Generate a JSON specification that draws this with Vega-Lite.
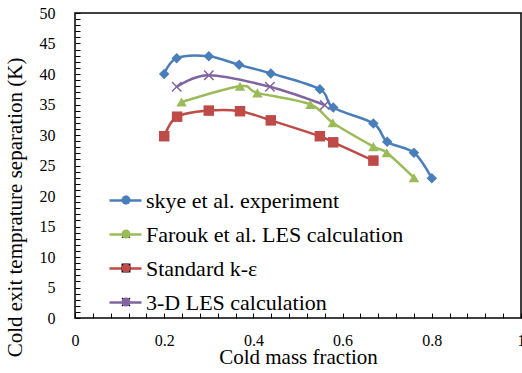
{
  "$schema": "https://vega.github.io/schema/vega-lite/v6.json",
  "width": 446,
  "height": 305,
  "autosize": {"type": "none"},
  "padding": {"left": 75, "top": 13, "right": 1, "bottom": 55},
  "background": "white",
  "config": {
    "view": {"stroke": "#000", "strokeWidth": 1.5},
    "font": "Liberation Serif",
    "axis": {
      "domain": false, "grid": false, "tickSize": -5, "tickColor": "#000", "tickWidth": 1,
      "labelFont": "Liberation Serif", "labelFontSize": 16, "labelColor": "#000",
      "labelFlush": false, "labelOverlap": false,
      "titleFont": "Liberation Serif", "titleFontWeight": "normal", "titleColor": "#000"
    },
    "legend": {"labelFont": "Liberation Serif", "labelColor": "#000", "labelLimit": 400}
  },
  "data": {
    "values": [
      {"series": "skye et al. experiment", "x": 0.2, "y": 40.0},
      {"series": "skye et al. experiment", "x": 0.228, "y": 42.6},
      {"series": "skye et al. experiment", "x": 0.3, "y": 42.9},
      {"series": "skye et al. experiment", "x": 0.368, "y": 41.5},
      {"series": "skye et al. experiment", "x": 0.439, "y": 40.1},
      {"series": "skye et al. experiment", "x": 0.549, "y": 37.5},
      {"series": "skye et al. experiment", "x": 0.579, "y": 34.5},
      {"series": "skye et al. experiment", "x": 0.669, "y": 31.9},
      {"series": "skye et al. experiment", "x": 0.7, "y": 28.9},
      {"series": "skye et al. experiment", "x": 0.76, "y": 27.1},
      {"series": "skye et al. experiment", "x": 0.8, "y": 22.9},
      {"series": "Farouk et al. LES calculation", "x": 0.239, "y": 35.4},
      {"series": "Farouk et al. LES calculation", "x": 0.37, "y": 38.0},
      {"series": "Farouk et al. LES calculation", "x": 0.409, "y": 36.9},
      {"series": "Farouk et al. LES calculation", "x": 0.528, "y": 35.0},
      {"series": "Farouk et al. LES calculation", "x": 0.578, "y": 32.0},
      {"series": "Farouk et al. LES calculation", "x": 0.669, "y": 28.1},
      {"series": "Farouk et al. LES calculation", "x": 0.699, "y": 27.1},
      {"series": "Farouk et al. LES calculation", "x": 0.76, "y": 23.0},
      {"series": "Standard k-ε", "x": 0.2, "y": 29.8},
      {"series": "Standard k-ε", "x": 0.229, "y": 33.0},
      {"series": "Standard k-ε", "x": 0.3, "y": 34.0},
      {"series": "Standard k-ε", "x": 0.37, "y": 33.9},
      {"series": "Standard k-ε", "x": 0.439, "y": 32.4},
      {"series": "Standard k-ε", "x": 0.549, "y": 29.8},
      {"series": "Standard k-ε", "x": 0.579, "y": 28.8},
      {"series": "Standard k-ε", "x": 0.669, "y": 25.8},
      {"series": "3-D LES calculation", "x": 0.228, "y": 37.9},
      {"series": "3-D LES calculation", "x": 0.3, "y": 39.8},
      {"series": "3-D LES calculation", "x": 0.437, "y": 37.9},
      {"series": "3-D LES calculation", "x": 0.56, "y": 34.9}
    ]
  },
  "encoding": {
    "x": {
      "field": "x", "type": "quantitative",
      "scale": {"domain": [0, 1], "nice": false, "zero": false},
      "axis": {
        "values": [0, 0.04, 0.08, 0.12, 0.16, 0.2, 0.24, 0.28, 0.32, 0.36, 0.4, 0.44, 0.48, 0.52, 0.56, 0.6, 0.64, 0.68, 0.72, 0.76, 0.8, 0.84, 0.88, 0.92, 0.96, 1],
        "format": "~g",
        "labelExpr": "abs(datum.value*5 - round(datum.value*5)) < 0.000001 ? datum.label : ''",
        "labelPadding": 19,
        "title": "Cold mass fraction", "titleFontSize": 21,
        "titleBaseline": "alphabetic", "titleY": 45
      }
    },
    "y": {
      "field": "y", "type": "quantitative",
      "scale": {"domain": [0, 50], "nice": false},
      "axis": {
        "values": [0,1,2,3,4,5,6,7,8,9,10,11,12,13,14,15,16,17,18,19,20,21,22,23,24,25,26,27,28,29,30,31,32,33,34,35,36,37,38,39,40,41,42,43,44,45,46,47,48,49,50],
        "labelExpr": "datum.value % 5 == 0 ? datum.label : ''",
        "labelPadding": 25,
        "title": "Cold exit temprature separation (K)", "titleFontSize": 21,
        "titleX": -50, "titleY": 194, "titleBaseline": "bottom", "titleAngle": 270
      }
    }
  },
  "layer": [
    {
      "mark": {"type": "line", "interpolate": "cardinal", "strokeWidth": 2.5},
      "encoding": {
        "stroke": {
          "field": "series", "type": "nominal",
          "scale": {
            "domain": ["skye et al. experiment", "Farouk et al. LES calculation", "Standard k-ε", "3-D LES calculation"],
            "range": ["#4A7EBB", "#9BBB59", "#BE4B48", "#8064A2"]
          },
          "legend": {
            "orient": "none", "legendX": 33, "legendY": 170, "title": null,
            "symbolType": "stroke", "symbolSize": 1024, "symbolStrokeWidth": 2.5,
            "labelFontSize": 22, "labelOffset": 3, "rowPadding": 5, "padding": 0
          }
        }
      }
    },
    {
      "mark": {"type": "point", "filled": true, "size": 110, "opacity": 1, "strokeWidth": 0},
      "encoding": {
        "shape": {
          "field": "series", "type": "nominal",
          "sort": ["skye et al. experiment", "Farouk et al. LES calculation", "Standard k-ε", "3-D LES calculation"],
          "scale": {"range": ["diamond", "triangle-up", "square", "M-1,-0.8L-0.8,-1L0,-0.2L0.8,-1L1,-0.8L0.2,0L1,0.8L0.8,1L0,0.2L-0.8,1L-1,0.8L-0.2,0Z"]},
          "legend": {
            "orient": "none", "legendX": 40, "legendY": 176, "title": null,
            "symbolSize": 80, "symbolStrokeWidth": 0,
            "labelFontSize": 22, "labelOpacity": 0, "rowPadding": 12, "padding": 0
          }
        },
        "fill": {
          "field": "series", "type": "nominal",
          "sort": ["skye et al. experiment", "Farouk et al. LES calculation", "Standard k-ε", "3-D LES calculation"],
          "scale": {"range": ["#4A7EBB", "#9BBB59", "#BE4B48", "#8064A2"]},
          "legend": {
            "orient": "none", "legendX": 40, "legendY": 176, "title": null,
            "symbolSize": 80, "symbolStrokeWidth": 0,
            "labelFontSize": 22, "labelOpacity": 0, "rowPadding": 12, "padding": 0
          }
        }
      }
    }
  ]
}
